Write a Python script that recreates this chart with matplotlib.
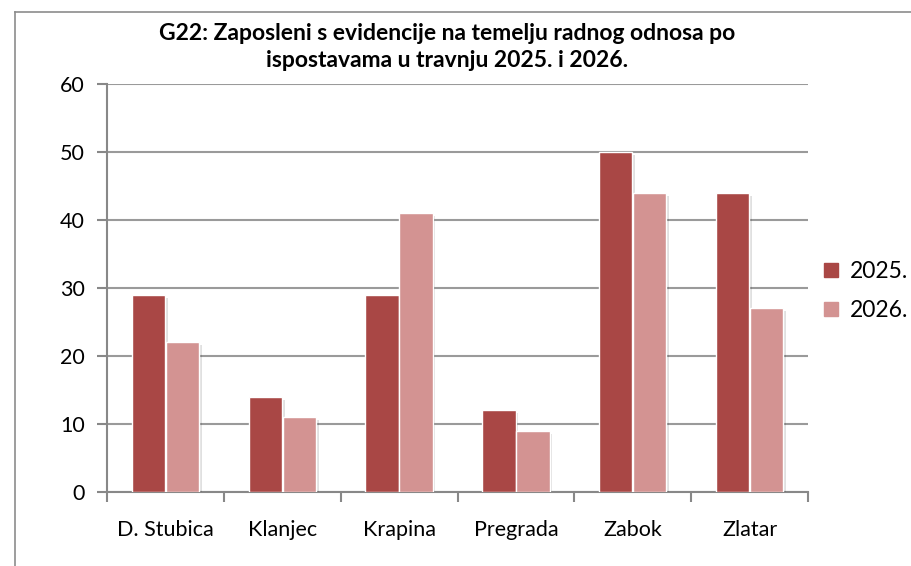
import numpy as np
import matplotlib
matplotlib.use("Agg")
import matplotlib.pyplot as plt
from matplotlib.lines import Line2D
import matplotlib.patheffects as pe

# ── DATA ──────────────────────────────────────────────────────
categories = ["D. Stubica", "Klanjec", "Krapina", "Pregrada", "Zabok", "Zlatar"]
vals_2025  = [29, 14, 29, 12, 50, 44]
vals_2026  = [22, 11, 41, 9, 44, 27]
series     = ["2025.", "2026."]
title      = "G22: Zaposleni s evidencije na temelju radnog odnosa po\nispostavama u travnju 2025. i 2026."

# ── STYLE ─────────────────────────────────────────────────────
plt.rcParams["font.family"] = ["Lato", "DejaVu Sans"]
C_DARK  = "#A94745"
C_LIGHT = "#D39392"
GRID    = "#9A9A9A"

fig = plt.figure(figsize=(9.11, 5.66), dpi=100)
ax = fig.add_axes([107 / 911, 1 - 492 / 566, (808 - 107) / 911, (492 - 84) / 566])

x = np.arange(len(categories))
w = 0.285
shadow = [pe.SimplePatchShadow(offset=(2, -2), shadow_rgbFace="#000000", alpha=0.12), pe.Normal()]
b1 = ax.bar(x - 0.145, vals_2025, w, color=C_DARK, edgecolor="white", linewidth=1, zorder=3)
b2 = ax.bar(x + 0.145, vals_2026, w, color=C_LIGHT, edgecolor="white", linewidth=1, zorder=3)
for b in list(b1) + list(b2):
    b.set_path_effects(shadow)

ax.set_xlim(-0.5, len(categories) - 0.5)
ax.set_ylim(0, 60)
ax.set_yticks(range(0, 61, 10))
ax.yaxis.grid(True, color=GRID, linewidth=1.5, zorder=0)
ax.set_axisbelow(True)

ax.set_xticks(x)
ax.set_xticklabels(categories, fontsize=15.5)
ax.set_xticks(np.arange(-0.5, len(categories)), minor=True)
ax.tick_params(axis="x", which="major", length=0, pad=20)
ax.tick_params(axis="x", which="minor", length=7, width=1.5, color="#888888")
ax.tick_params(axis="y", length=7, width=1.5, color="#888888", labelsize=15.5, pad=9)

for s in ["top", "right"]:
    ax.spines[s].set_visible(False)
for s in ["left", "bottom"]:
    ax.spines[s].set_color("#888888")
    ax.spines[s].set_linewidth(1.5)

# title
fig.text(447 / 911, 1 - 47 / 566, title, ha="center", va="center",
         fontsize=16.5, fontweight="bold", linespacing=1.35)

# legend
handles = [Line2D([], [], marker="s", linestyle="none", markersize=10, color=c)
           for c in (C_DARK, C_LIGHT)]
fig.legend(handles, series, loc="center left", bbox_to_anchor=(822 / 911, 1 - 291 / 566),
           frameon=False, fontsize=16.5, handlelength=0.8, handletextpad=0.4,
           borderpad=0, borderaxespad=0, labelspacing=0.75)

# outer frame (left and top edges visible)
fig.add_artist(Line2D([15 / 911, 15 / 911], [0, 1 - 12 / 566], transform=fig.transFigure,
                      color="#8C8C8C", linewidth=1.2))
fig.add_artist(Line2D([15 / 911, 1], [1 - 12 / 566, 1 - 12 / 566], transform=fig.transFigure,
                      color="#8C8C8C", linewidth=1.2))

fig.savefig("out.png", dpi=100)
